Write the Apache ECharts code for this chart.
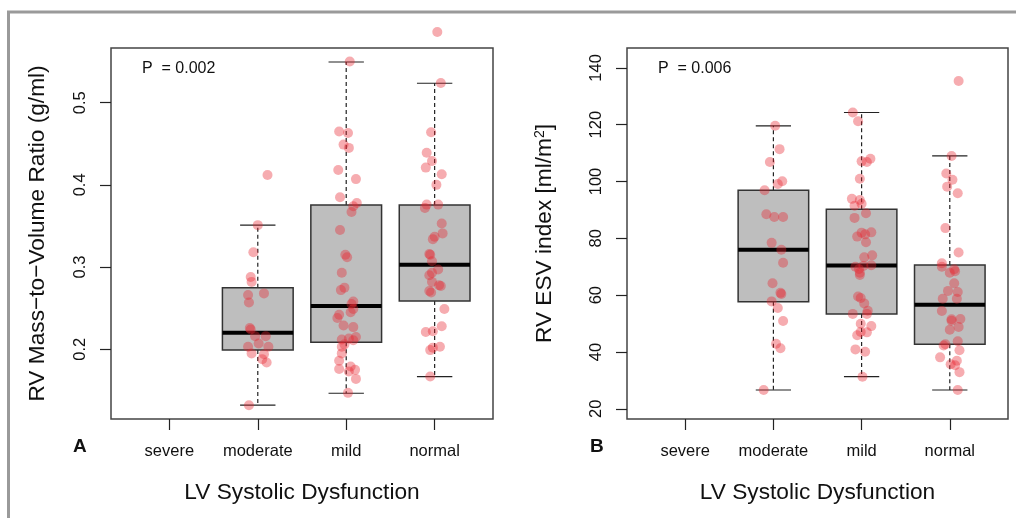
<!DOCTYPE html>
<html>
<head>
<meta charset="utf-8">
<script src="https://cdn.jsdelivr.net/npm/echarts@6/dist/echarts.min.js"></script>
<style>
  html, body { margin: 0; padding: 0; background: #fff; }
  #chart { width: 1016px; height: 518px; }
</style>
</head>
<body>
<div id="chart"></div>
<script>
// categories on the x axis (positions 1..4)
var categories = ['severe', 'moderate', 'mild', 'normal'];
var xTicks = [1, 2, 3, 4];
var ticksA = [0.2, 0.3, 0.4, 0.5];
var ticksB = [20, 40, 60, 80, 100, 120, 140];

// box stats: [position, lower whisker, Q1, median, Q3, upper whisker]
var boxesA = [
    [2, 0.132, 0.199, 0.220, 0.275, 0.351],
    [3, 0.1465, 0.2085, 0.2527, 0.3755, 0.5495],
    [4, 0.1667, 0.2588, 0.3029, 0.3755, 0.5236]
];
var boxesB = [
    [2, 26.6, 57.7, 76.0, 96.9, 119.6],
    [3, 31.3, 53.4, 70.4, 90.2, 124.3],
    [4, 26.6, 42.7, 56.6, 70.6, 109.0]
];

// panel A points (RV mass-to-volume ratio) and their horizontal jitter
var aModVal = [0.412, 0.351, 0.318, 0.288, 0.282, 0.268, 0.266, 0.257, 0.226, 0.224, 0.216, 0.216, 0.207, 0.203, 0.203, 0.195, 0.194, 0.188, 0.184, 0.132];
var aModJit = [0.11, 0, -0.05, -0.08, -0.07, 0.07, -0.11, -0.10, -0.09, -0.08, -0.03, 0.09, 0.01, -0.11, 0.12, -0.07, 0.07, 0.05, 0.10, -0.10];
var aMildVal = [0.550, 0.465, 0.463, 0.449, 0.445, 0.418, 0.407, 0.385, 0.378, 0.374, 0.367, 0.345, 0.315, 0.312, 0.293, 0.275, 0.272, 0.258, 0.255, 0.249, 0.245, 0.242, 0.238, 0.229, 0.227, 0.215, 0.213, 0.212, 0.211, 0.206, 0.203, 0.195, 0.186, 0.179, 0.176, 0.173, 0.175, 0.164, 0.147];
var aMildJit = [0.04, -0.08, 0.02, -0.03, 0.03, -0.09, 0.11, -0.07, 0.12, 0.08, 0.06, -0.07, -0.01, 0.01, -0.05, -0.02, -0.06, 0.08, 0.06, 0.08, 0.05, -0.08, -0.10, -0.03, 0.08, 0.11, 0.03, -0.05, 0.08, -0.02, -0.05, -0.05, -0.08, 0.05, -0.08, 0.03, 0.10, 0.11, 0.02];
var aNormVal = [0.586, 0.524, 0.464, 0.439, 0.429, 0.421, 0.413, 0.400, 0.376, 0.376, 0.372, 0.353, 0.341, 0.337, 0.334, 0.316, 0.315, 0.307, 0.297, 0.293, 0.290, 0.282, 0.277, 0.278, 0.271, 0.269, 0.249, 0.228, 0.221, 0.222, 0.203, 0.202, 0.199, 0.167];
var aNormJit = [0.03, 0.07, -0.04, -0.09, -0.03, -0.10, 0.08, 0.02, -0.09, 0.04, -0.11, 0.08, 0.09, 0.00, -0.02, -0.06, -0.05, -0.03, 0.04, -0.03, -0.06, -0.03, 0.07, 0.05, -0.06, -0.04, 0.11, 0.08, -0.10, -0.02, 0.06, -0.02, -0.05, -0.05];

// panel B points (RV ESV index)
var bModVal = [119.6, 111.4, 106.9, 100.1, 99.1, 96.9, 88.5, 87.5, 87.5, 78.4, 76.0, 71.4, 64.2, 60.8, 60.4, 57.8, 55.5, 50.9, 42.9, 41.3, 26.6];
var bModJit = [0.02, 0.07, -0.04, 0.10, 0.05, -0.10, -0.08, 0.01, 0.11, -0.02, 0.09, 0.11, -0.01, 0.08, 0.09, -0.02, 0.05, 0.11, 0.03, 0.08, -0.11];
var bMildVal = [124.3, 121.2, 107.1, 106.9, 108.0, 101.0, 93.9, 93.5, 91.5, 92.2, 88.8, 87.2, 82.0, 82.1, 80.6, 81.4, 78.6, 73.3, 74.0, 70.0, 70.3, 70.5, 69.2, 67.1, 67.9, 59.5, 59.0, 57.1, 54.5, 53.4, 53.4, 49.9, 49.1, 47.0, 46.9, 45.9, 40.9, 40.1, 31.3];
var bMildJit = [-0.10, -0.04, 0.00, 0.06, 0.10, -0.02, -0.11, -0.02, -0.08, 0.00, 0.05, -0.08, 0.00, 0.11, -0.05, 0.04, 0.05, 0.03, 0.12, -0.07, 0.02, 0.11, -0.03, -0.02, -0.02, -0.04, -0.01, 0.03, 0.07, 0.06, -0.10, -0.01, 0.11, -0.01, 0.06, -0.05, -0.07, 0.04, 0.01];
var bNormVal = [135.4, 109.0, 102.8, 100.6, 98.2, 95.9, 83.6, 75.0, 71.2, 70.0, 69.1, 68.4, 67.9, 64.2, 61.5, 61.1, 58.7, 58.7, 54.4, 51.5, 51.0, 51.6, 48.8, 47.8, 43.8, 42.7, 42.3, 40.6, 38.1, 36.9, 35.7, 35.3, 32.9, 26.6];
var bNormJit = [0.10, 0.02, -0.04, 0.03, -0.03, 0.09, -0.05, 0.10, -0.09, -0.09, 0.05, 0.06, 0.00, 0.05, -0.02, 0.09, -0.08, 0.08, -0.09, 0.02, 0.02, 0.12, 0.10, 0.00, 0.09, -0.05, -0.07, 0.11, -0.11, 0.08, 0.01, 0.06, 0.11, 0.09];

var FONT = '"Liberation Sans", Arial, Helvetica, sans-serif';

function jittered(pos, vals, jit) {
    return vals.map(function (v, i) { return [pos + jit[i], v]; });
}

var pointsA = [].concat(jittered(2, aModVal, aModJit), jittered(3, aMildVal, aMildJit), jittered(4, aNormVal, aNormJit));
var pointsB = [].concat(jittered(2, bModVal, bModJit), jittered(3, bMildVal, bMildJit), jittered(4, bNormVal, bNormJit));

// draws one R-style box with dashed whiskers
function renderBox(params, api) {
    var pos = api.value(0);
    var lo = api.coord([pos, api.value(1)]);
    var q1 = api.coord([pos, api.value(2)]);
    var med = api.coord([pos, api.value(3)]);
    var q3 = api.coord([pos, api.value(4)]);
    var hi = api.coord([pos, api.value(5)]);
    var halfBox = api.size([0.8, 0])[0] / 2;
    var halfCap = api.size([0.4, 0])[0] / 2;
    var x = lo[0];
    var dash = { stroke: '#222', lineWidth: 1.2, lineDash: [4, 3] };
    var solid = { stroke: '#222', lineWidth: 1.2 };
    return {
        type: 'group',
        children: [
            { type: 'line', shape: { x1: x, y1: q3[1], x2: x, y2: hi[1] }, style: dash },
            { type: 'line', shape: { x1: x, y1: q1[1], x2: x, y2: lo[1] }, style: dash },
            { type: 'line', shape: { x1: x - halfCap, y1: hi[1], x2: x + halfCap, y2: hi[1] }, style: solid },
            { type: 'line', shape: { x1: x - halfCap, y1: lo[1], x2: x + halfCap, y2: lo[1] }, style: solid },
            { type: 'rect', shape: { x: x - halfBox, y: q3[1], width: halfBox * 2, height: q1[1] - q3[1] },
              style: { fill: '#bebebe', stroke: '#333', lineWidth: 1.5 } },
            { type: 'line', shape: { x1: x - halfBox, y1: med[1], x2: x + halfBox, y2: med[1] },
              style: { stroke: '#000', lineWidth: 4 } }
        ]
    };
}

function xAxisFor(gridIndex) {
    return {
        type: 'value', gridIndex: gridIndex, min: 0.34, max: 4.66,
        name: 'LV Systolic Dysfunction', nameLocation: 'middle', nameGap: 62,
        nameTextStyle: { fontFamily: FONT, fontSize: 22.7, color: '#111' },
        splitLine: { show: false },
        axisLine: { show: false },
        axisTick: { show: true, length: 11, customValues: xTicks, lineStyle: { color: '#222', width: 1.2 } },
        axisLabel: {
            customValues: xTicks, margin: 24, fontFamily: FONT, fontSize: 16.5, color: '#111',
            formatter: function (v) { return categories[Math.round(v) - 1]; }
        }
    };
}

function yAxisFor(gridIndex, min, max, ticks, name, gap) {
    return {
        type: 'value', gridIndex: gridIndex, min: min, max: max,
        name: name, nameLocation: 'middle', nameGap: gap,
        nameTextStyle: {
            fontFamily: FONT, fontSize: 22.7, color: '#111',
            rich: { sup: { fontFamily: FONT, fontSize: 14, color: '#111', verticalAlign: 'top', padding: [0, 0, 10, 0] } }
        },
        splitLine: { show: false },
        axisLine: { show: false },
        axisTick: { show: true, length: 11, customValues: ticks, lineStyle: { color: '#222', width: 1.2 } },
        axisLabel: {
            customValues: ticks, rotate: 90, margin: 22,
            fontFamily: FONT, fontSize: 16.5, color: '#111'
        }
    };
}

var pointStyle = { color: 'rgba(232, 40, 50, 0.48)' };

var option = {
    backgroundColor: '#fff',
    animation: false,
    grid: [
        { left: 111, top: 48, width: 382, height: 371, show: true, borderColor: '#444', borderWidth: 1.5, backgroundColor: 'transparent' },
        { left: 627, top: 48, width: 381, height: 371, show: true, borderColor: '#444', borderWidth: 1.5, backgroundColor: 'transparent' }
    ],
    xAxis: [xAxisFor(0), xAxisFor(1)],
    yAxis: [
        yAxisFor(0, 0.1152, 0.5665, ticksA, 'RV Mass\u2212to\u2212Volume Ratio (g/ml)', 62),
        yAxisFor(1, 16.4, 147.0, ticksB, 'RV ESV index [ml/m{sup|2}]', 70)
    ],
    series: [
        { type: 'custom', xAxisIndex: 0, yAxisIndex: 0, renderItem: renderBox, data: boxesA,
          encode: { x: 0, y: [1, 2, 3, 4, 5] }, z: 2, clip: false },
        { type: 'custom', xAxisIndex: 1, yAxisIndex: 1, renderItem: renderBox, data: boxesB,
          encode: { x: 0, y: [1, 2, 3, 4, 5] }, z: 2, clip: false },
        { type: 'scatter', xAxisIndex: 0, yAxisIndex: 0, data: pointsA, symbolSize: 10,
          itemStyle: pointStyle, z: 5, clip: false },
        { type: 'scatter', xAxisIndex: 1, yAxisIndex: 1, data: pointsB, symbolSize: 10,
          itemStyle: pointStyle, z: 5, clip: false }
    ],
    graphic: [
        // grey figure frame (top and left edges)
        { type: 'line', shape: { x1: 7, y1: 12, x2: 1016, y2: 12 }, style: { stroke: '#9a9a9a', lineWidth: 3 } },
        { type: 'line', shape: { x1: 8.5, y1: 12, x2: 8.5, y2: 518 }, style: { stroke: '#9a9a9a', lineWidth: 3 } },
        { type: 'text', x: 142, y: 69, style: { text: 'P  = 0.002', font: '16px ' + FONT, fill: '#111', verticalAlign: 'middle' } },
        { type: 'text', x: 658, y: 69, style: { text: 'P  = 0.006', font: '16px ' + FONT, fill: '#111', verticalAlign: 'middle' } },
        { type: 'text', x: 73, y: 447, style: { text: 'A', font: 'bold 19px ' + FONT, fill: '#111', verticalAlign: 'middle' } },
        { type: 'text', x: 590, y: 447, style: { text: 'B', font: 'bold 19px ' + FONT, fill: '#111', verticalAlign: 'middle' } }
    ]
};

var chart = echarts.init(document.getElementById('chart'));
chart.setOption(option);
</script>
</body>
</html>
